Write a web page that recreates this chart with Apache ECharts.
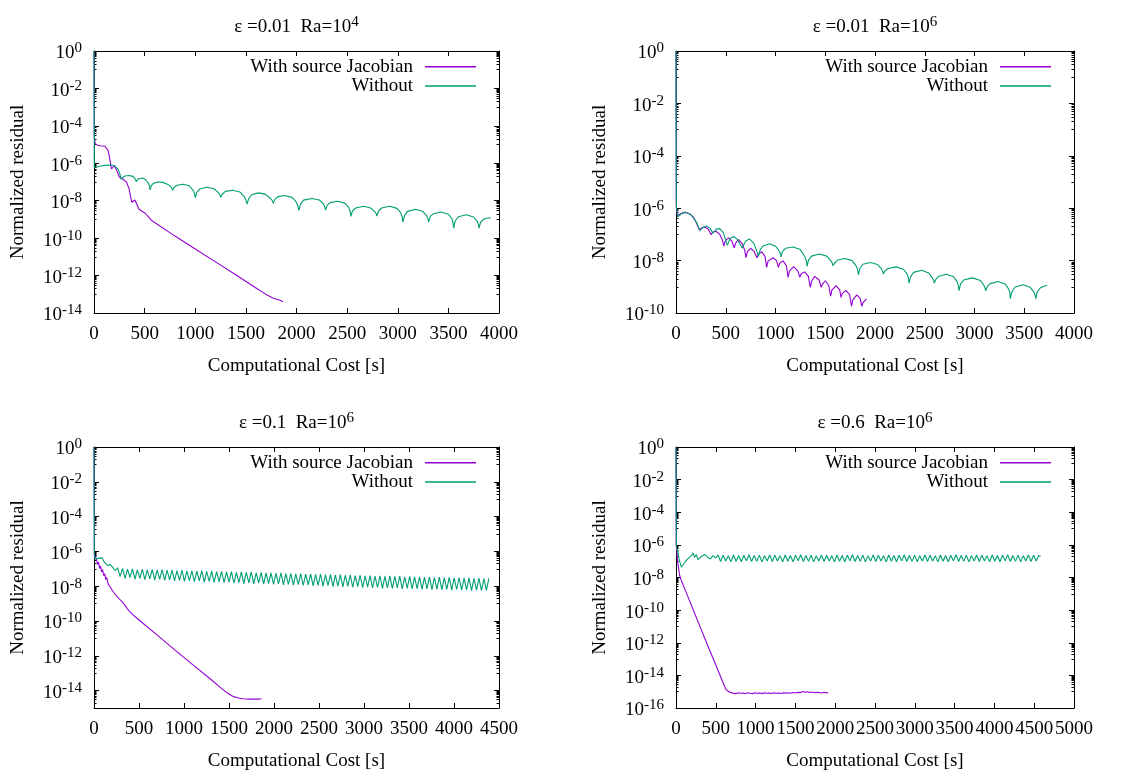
<!DOCTYPE html>
<html>
<head>
<meta charset="utf-8">
<script src="https://cdn.jsdelivr.net/npm/echarts@6/dist/echarts.min.js"></script>
<style>
  html, body { margin: 0; padding: 0; background: #fff; }
  #chart { width: 1129px; height: 772px; }
</style>
</head>
<body>
<div id="chart"></div>
<script>
// Residual histories: each point is [computational cost in s, log10 of normalized residual].

// eps = 0.01, Ra = 1e4
const topLeftWith = [[0,0],[3,-4.6],[12,-4.95],[35,-5.04],[60,-5.06],[108,-5.09],[140,-5.32],[160,-5.9],[172,-6.3],[185,-6.2],[204,-6.12],[225,-6.4],[252,-6.75],[283,-6.84],[322,-7.01],[347,-7.37],[362,-7.8],[373,-8.08],[385,-8.0],[404,-7.96],[420,-8.15],[443,-8.44],[470,-8.55],[506,-8.67],[540,-8.88],[570,-9.06],[586,-9.15],[800,-9.89],[1000,-10.58],[1200,-11.27],[1400,-11.96],[1600,-12.66],[1660,-12.87],[1717,-13.06],[1740,-13.12],[1760,-13.18],[1780,-13.22],[1795,-13.2],[1810,-13.28],[1825,-13.26],[1844,-13.33],[1856,-13.3],[1866,-13.4]];
const topLeftWithout = [[0,0],[3,-6.21],[30,-6.2],[80,-6.13],[130,-6.1],[172,-6.09],[205,-6.15],[236,-6.3],[255,-6.55],[268,-6.84],
  [280,-6.74],[305,-6.68],[347,-6.65],[385,-6.7],[405,-6.82],[417,-6.98],
  [430,-6.86],[452,-6.81],[481,-6.79],[510,-6.88],[535,-7.05],[548,-7.2],[554,-7.42],
  [568,-7.18],[590,-7.06],[630,-7.0],[680,-7.02],[730,-7.13],[760,-7.26],[777,-7.44],
  [792,-7.28],[820,-7.17],[880,-7.12],[940,-7.2],[975,-7.42],[992,-7.6],[1000,-7.83],
  [1015,-7.56],[1045,-7.37],[1115,-7.28],[1185,-7.36],[1225,-7.55],[1243,-7.68],[1252,-7.82],
  [1268,-7.64],[1298,-7.5],[1370,-7.44],[1440,-7.53],[1480,-7.75],[1500,-7.95],[1512,-8.18],
  [1527,-7.9],[1557,-7.68],[1625,-7.58],[1695,-7.66],[1740,-7.87],[1760,-7.98],[1771,-8.14],
  [1786,-7.93],[1816,-7.78],[1885,-7.72],[1955,-7.82],[1995,-8.05],[2013,-8.25],[2023,-8.52],
  [2040,-8.18],[2070,-7.97],[2152,-7.88],[2225,-7.96],[2262,-8.15],[2278,-8.3],[2287,-8.5],
  [2303,-8.25],[2333,-8.1],[2407,-8.03],[2478,-8.13],[2515,-8.36],[2530,-8.56],[2537,-8.84],
  [2553,-8.55],[2585,-8.39],[2662,-8.3],[2732,-8.39],[2770,-8.57],[2786,-8.68],[2794,-8.82],
  [2810,-8.55],[2840,-8.39],[2920,-8.3],[2992,-8.41],[3030,-8.65],[3044,-8.86],[3051,-9.14],
  [3067,-8.8],[3097,-8.57],[3174,-8.46],[3245,-8.56],[3285,-8.8],[3298,-8.97],[3305,-9.14],
  [3320,-8.85],[3350,-8.7],[3430,-8.6],[3500,-8.72],[3535,-8.95],[3546,-9.17],[3552,-9.46],
  [3568,-9.07],[3598,-8.86],[3677,-8.75],[3748,-8.87],[3785,-9.1],[3796,-9.27],[3802,-9.46],
  [3818,-9.15],[3850,-8.98],[3890,-8.92],[3921,-8.92]];

// eps = 0.01, Ra = 1e6
const topRightWith = [[0,0],[3,-5.95],[13,-6.3],[40,-6.22],[70,-6.17],[99,-6.16],[140,-6.22],[178,-6.35],[210,-6.6],[236,-6.84],[255,-6.76],[290,-6.72],[325,-6.8],[353,-7.01],[370,-6.92],[401,-6.88],[440,-7.0],[465,-7.2],[481,-7.45],[495,-7.25],[529,-7.13],[560,-7.25],[586,-7.51],[600,-7.32],[630,-7.2],[665,-7.35],[690,-7.6],[704,-7.89],[718,-7.65],[752,-7.53],[785,-7.65],[815,-7.89],[828,-7.75],[863,-7.66],[895,-7.85],[911,-8.26],[925,-8.02],[975,-7.89],[1010,-8.0],[1029,-8.26],[1042,-8.1],[1076,-8.01],[1110,-8.2],[1127,-8.64],[1140,-8.4],[1182,-8.23],[1225,-8.4],[1245,-8.64],[1258,-8.5],[1293,-8.43],[1330,-8.6],[1350,-9.02],[1363,-8.78],[1395,-8.6],[1440,-8.75],[1459,-9.02],[1472,-8.9],[1500,-8.77],[1535,-8.95],[1554,-9.36],[1567,-9.12],[1611,-8.96],[1645,-9.12],[1659,-9.4],[1672,-9.25],[1707,-9.14],[1745,-9.3],[1764,-9.74],[1777,-9.5],[1818,-9.31],[1852,-9.45],[1866,-9.74],[1880,-9.6],[1914,-9.46]];
const topRightWithout = [[0,0],[3,-5.9],[18,-6.32],[60,-6.2],[97,-6.15],[150,-6.25],[200,-6.5],[242,-6.85],[275,-6.72],[306,-6.68],[340,-6.76],[372,-6.95],[405,-6.8],[440,-6.78],[475,-6.92],[515,-7.42],[545,-7.15],[580,-7.08],[620,-7.2],[665,-7.52],[700,-7.25],[740,-7.18],[785,-7.35],[830,-7.84],
  [845,-7.6],[875,-7.44],[940,-7.36],[1000,-7.45],[1035,-7.62],[1048,-7.72],[1055,-7.86],
  [1070,-7.65],[1100,-7.53],[1176,-7.48],[1250,-7.58],[1295,-7.85],[1310,-8.0],[1317,-8.22],
  [1332,-7.98],[1362,-7.83],[1440,-7.75],[1515,-7.83],[1555,-8.0],[1571,-8.1],[1578,-8.2],
  [1593,-8.1],[1623,-7.98],[1697,-7.92],[1770,-8.0],[1810,-8.2],[1826,-8.35],[1833,-8.54],
  [1848,-8.3],[1878,-8.14],[1955,-8.07],[2025,-8.15],[2062,-8.3],[2077,-8.4],[2084,-8.51],
  [2099,-8.4],[2130,-8.3],[2210,-8.24],[2285,-8.33],[2320,-8.5],[2335,-8.65],[2342,-8.86],
  [2357,-8.62],[2388,-8.45],[2468,-8.37],[2540,-8.47],[2575,-8.65],[2589,-8.75],[2596,-8.86],
  [2611,-8.72],[2641,-8.6],[2719,-8.52],[2790,-8.62],[2825,-8.8],[2838,-8.95],[2844,-9.15],
  [2860,-8.9],[2892,-8.74],[2980,-8.66],[3060,-8.76],[3095,-8.95],[3106,-9.05],[3112,-9.15],
  [3127,-9.0],[3157,-8.88],[3238,-8.8],[3310,-8.9],[3342,-9.08],[3354,-9.2],[3360,-9.45],
  [3375,-9.2],[3405,-9.02],[3488,-8.92],[3560,-9.02],[3597,-9.2],[3609,-9.32],[3615,-9.45],
  [3630,-9.2],[3660,-9.05],[3700,-8.97],[3732,-8.95]];

// eps = 0.1, Ra = 1e6
const bottomLeftWith = [[0,0],[5,-6.2],[26,-6.43],[40,-6.75],[50,-6.62],[62,-6.98],[72,-6.85],[85,-7.18],[95,-7.05],[108,-7.4],[118,-7.28],[132,-7.62],[142,-7.5],[156,-7.85],[166,-7.74],[180,-8.05],[190,-7.95],[204,-8.25],[214,-8.16],[228,-8.42],[240,-8.35],[255,-8.58],[268,-8.52],[285,-8.75],[300,-8.78],[320,-8.95],[345,-9.1],[370,-9.3],[400,-9.47],[434,-9.65],[500,-9.94],[700,-10.8],[900,-11.67],[1100,-12.52],[1300,-13.36],[1400,-13.8],[1471,-14.1],[1500,-14.2],[1530,-14.3],[1560,-14.36],[1590,-14.4],[1615,-14.44],[1635,-14.4],[1655,-14.47],[1675,-14.43],[1695,-14.48],[1715,-14.44],[1735,-14.49],[1755,-14.45],[1775,-14.48],[1795,-14.44],[1815,-14.49],[1835,-14.45],[1850,-14.48],[1861,-14.46]];
const bottomLeftWithout = [[0,0],[3,-6.3],[15,-6.43],[49,-6.4],[86,-6.37],[119,-6.65],[152,-6.82],[178,-6.75],[204,-6.89],[233,-7.1],[263,-6.95],
  [290,-7.45],[317,-6.98],[345,-7.55],[372,-7.02],[400,-7.5],[427,-7.0],[455,-7.6],[482,-7.05],[510,-7.55],[537,-7.02],
  [565,-7.62],[592,-7.06],[620,-7.58],[647,-7.04],[675,-7.65],[702,-7.08],[730,-7.6],[757,-7.05],[785,-7.66],[812,-7.08],
  [840,-7.64],[867,-7.07],[895,-7.7],[922,-7.1],[950,-7.66],[977,-7.08],[1005,-7.72],[1032,-7.12],[1060,-7.68],[1087,-7.1],
  [1115,-7.74],[1142,-7.13],[1170,-7.7],[1197,-7.11],[1225,-7.76],[1252,-7.15],[1280,-7.72],[1307,-7.13],[1335,-7.78],[1362,-7.16],
  [1390,-7.75],[1417,-7.15],[1445,-7.8],[1472,-7.18],[1500,-7.77],[1527,-7.16],[1555,-7.83],[1582,-7.2],[1610,-7.79],[1637,-7.18],
  [1665,-7.85],[1692,-7.21],[1720,-7.81],[1747,-7.19],[1775,-7.86],[1802,-7.23],[1830,-7.83],[1857,-7.21],[1885,-7.88],[1912,-7.24],
  [1940,-7.85],[1967,-7.23],[1995,-7.9],[2022,-7.26],[2050,-7.87],[2077,-7.24],[2105,-7.92],[2132,-7.28],[2160,-7.89],[2187,-7.26],
  [2215,-7.94],[2242,-7.29],[2270,-7.91],[2297,-7.27],[2325,-7.96],[2352,-7.31],[2380,-7.93],[2407,-7.29],[2435,-7.98],[2462,-7.32],
  [2490,-7.95],[2517,-7.31],[2545,-8.0],[2572,-7.34],[2600,-7.97],[2627,-7.32],[2655,-8.02],[2682,-7.36],[2710,-7.99],[2737,-7.34],
  [2765,-8.04],[2792,-7.37],[2820,-8.01],[2847,-7.35],[2875,-8.06],[2902,-7.39],[2930,-8.03],[2957,-7.37],[2985,-8.08],[3012,-7.4],
  [3040,-8.05],[3067,-7.39],[3095,-8.1],[3122,-7.42],[3150,-8.07],[3177,-7.4],[3205,-8.12],[3232,-7.43],[3260,-8.09],[3287,-7.41],
  [3315,-8.13],[3342,-7.44],[3370,-8.1],[3397,-7.42],[3425,-8.15],[3452,-7.46],[3480,-8.12],[3507,-7.44],[3535,-8.16],[3562,-7.47],
  [3590,-8.14],[3617,-7.46],[3645,-8.18],[3672,-7.48],[3700,-8.15],[3727,-7.47],[3755,-8.2],[3782,-7.5],[3810,-8.17],[3837,-7.48],
  [3865,-8.21],[3892,-7.51],[3920,-8.18],[3947,-7.49],[3975,-8.22],[4002,-7.52],[4030,-8.19],[4057,-7.5],[4085,-8.23],[4112,-7.53],
  [4140,-8.21],[4167,-7.52],[4195,-8.25],[4222,-7.55],[4250,-8.22],[4277,-7.53],[4305,-8.26],[4332,-7.56],[4360,-8.24],[4387,-7.55]];

// eps = 0.6, Ra = 1e6
const bottomRightWith = [[0,0],[3,-6.05],[20,-7.0],[46,-7.88],[67,-8.18],[120,-8.82],[172,-9.45],[230,-10.15],[297,-10.95],[380,-11.95],[465,-12.95],[549,-13.95],[611,-14.68],[630,-14.88],[653,-14.98],[680,-15.05],[716,-15.09],[750,-15.12],[780,-15.06],[810,-15.1],[840,-15.08],[870,-15.13],[900,-15.07],[930,-15.1],[960,-15.12],[990,-15.06],[1020,-15.1],[1050,-15.08],[1080,-15.12],[1110,-15.07],[1140,-15.1],[1170,-15.09],[1200,-15.11],[1230,-15.06],[1260,-15.1],[1290,-15.08],[1320,-15.11],[1350,-15.06],[1380,-15.09],[1410,-15.07],[1440,-15.1],[1470,-15.05],[1500,-15.08],[1530,-15.04],[1560,-15.06],[1590,-14.99],[1620,-15.03],[1650,-15.0],[1680,-15.05],[1710,-15.02],[1740,-15.06],[1770,-15.03],[1800,-15.05],[1830,-15.08],[1860,-15.04],[1890,-15.07],[1910,-15.06]];
const bottomRightWithout = [[0,0],[4,-6.0],[12,-6.05],[40,-6.9],[67,-7.37],[96,-7.17],[121,-7.07],[138,-6.9],[163,-6.96],[193,-6.66],[214,-6.5],[234,-6.76],[255,-6.6],[276,-6.9],[306,-6.76],[331,-6.82],[360,-6.58],[381,-6.5],[402,-6.78],[431,-6.86],[465,-6.66],[498,-6.8],[528,-6.62],
  [560,-7.02],[592,-6.63],[625,-6.99],[657,-6.66],[690,-7.04],[722,-6.62],[755,-7.0],[787,-6.65],[820,-7.03],[852,-6.64],
  [885,-6.98],[917,-6.61],[950,-7.02],[982,-6.65],[1015,-7.01],[1047,-6.63],[1080,-7.04],[1112,-6.66],[1145,-6.99],[1177,-6.62],
  [1210,-7.02],[1242,-6.63],[1275,-6.99],[1307,-6.66],[1340,-7.04],[1372,-6.62],[1405,-7.0],[1437,-6.65],[1470,-7.03],[1502,-6.64],
  [1535,-6.98],[1567,-6.61],[1600,-7.02],[1632,-6.65],[1665,-7.01],[1697,-6.63],[1730,-7.04],[1762,-6.66],[1795,-6.99],[1827,-6.62],
  [1860,-7.02],[1892,-6.63],[1925,-6.99],[1957,-6.66],[1990,-7.04],[2022,-6.62],[2055,-7.0],[2087,-6.65],[2120,-7.03],[2152,-6.64],
  [2185,-6.98],[2217,-6.61],[2250,-7.02],[2282,-6.65],[2315,-7.01],[2347,-6.63],[2380,-7.04],[2412,-6.66],[2445,-6.99],[2477,-6.62],
  [2510,-7.02],[2542,-6.63],[2575,-6.99],[2607,-6.66],[2640,-7.04],[2672,-6.62],[2705,-7.0],[2737,-6.65],[2770,-7.03],[2802,-6.64],
  [2835,-6.98],[2867,-6.61],[2900,-7.02],[2932,-6.65],[2965,-7.01],[2997,-6.63],[3030,-7.04],[3062,-6.66],[3095,-6.99],[3127,-6.62],
  [3160,-7.02],[3192,-6.63],[3225,-6.99],[3257,-6.66],[3290,-7.04],[3322,-6.62],[3355,-7.0],[3387,-6.65],[3420,-7.03],[3452,-6.64],
  [3485,-6.98],[3517,-6.61],[3550,-7.02],[3582,-6.65],[3615,-7.01],[3647,-6.63],[3680,-7.04],[3712,-6.66],[3745,-6.99],[3777,-6.62],
  [3810,-7.02],[3842,-6.63],[3875,-6.99],[3907,-6.66],[3940,-7.04],[3972,-6.62],[4005,-7.0],[4037,-6.65],[4070,-7.03],[4102,-6.64],
  [4135,-6.98],[4167,-6.61],[4200,-7.02],[4232,-6.65],[4265,-7.01],[4297,-6.63],[4330,-7.04],[4362,-6.66],[4395,-6.99],[4427,-6.62],
  [4460,-7.02],[4492,-6.63],[4525,-6.99],[4557,-6.66],[4581,-6.7]];

// Panel texts and axis ranges
const titleTexts = ['ε =0.01  Ra=10', 'ε =0.01  Ra=10', 'ε =0.1  Ra=10', 'ε =0.6  Ra=10'];
const titleExponents = ['4', '6', '6', '6'];
const xMaxima = [4000, 4000, 4500, 5000];
const xTickStep = 500;
const yMinExponents = [-14, -10, -15, -16];
const yMaxExponent = 0;
const seriesNames = ['With source Jacobian', 'Without'];
const xAxisTitle = 'Computational Cost [s]';
const yAxisTitle = 'Normalized residual';
const panelData = [
  [topLeftWith, topLeftWithout],
  [topRightWith, topRightWithout],
  [bottomLeftWith, bottomLeftWithout],
  [bottomRightWith, bottomRightWithout]
];

// Layout and styling
const FONT = 'Liberation Serif';
const COLORS = ['#9400d3', '#009e73'];
const grids = [
  { left: 94, top: 51, width: 405, height: 262 },
  { left: 676, top: 51, width: 398, height: 262 },
  { left: 94, top: 447, width: 405, height: 263 },
  { left: 676, top: 447, width: 398, height: 263 }
];
const W = 1129;
const black = { color: '#000', width: 1 };
// base text centred in a 25px line, exponent pinned to the line top
const supRich = {
  b: { fontFamily: FONT, fontSize: 19, fontWeight: 'normal', lineHeight: 25, color: '#000', verticalAlign: 'middle' },
  s: { fontFamily: FONT, fontSize: 15, fontWeight: 'normal', lineHeight: 13, color: '#000', verticalAlign: 'top' }
};
const textStyle = { fontFamily: FONT, fontSize: 19, fontWeight: 'normal', color: '#000' };

const option = {
  animation: false,
  backgroundColor: '#fff',
  title: [], grid: [], xAxis: [], yAxis: [], legend: [], series: []
};

grids.forEach((g, i) => {
  const yMin = yMinExponents[i];
  // labelled decades every 2, small ticks on the 1..9 multiples of the decade below each
  const majors = [];
  for (let e = yMaxExponent; e >= yMin; e -= 2) majors.push(e);
  const minors = [];
  majors.forEach(m => {
    for (let k = 1; k <= 9; k++) {
      const v = m - 1 + Math.log10(k);
      if (v >= yMin) minors.push(v);
    }
  });

  option.grid.push({ left: g.left, top: g.top, width: g.width, height: g.height });

  option.title.push({
    text: '{b|' + titleTexts[i] + '}{s|' + titleExponents[i] + '}',
    left: g.left + g.width / 2, top: g.top - 36, textAlign: 'center', padding: 0,
    textStyle: { fontWeight: 'normal', rich: supRich }
  });

  const xCommon = {
    gridIndex: i, type: 'value', min: 0, max: xMaxima[i], interval: xTickStep,
    axisLine: { show: true, onZero: false, lineStyle: black },
    axisTick: { show: true, inside: true, length: 5, lineStyle: black },
    splitLine: { show: false }
  };
  option.xAxis.push(Object.assign({}, xCommon, {
    position: 'bottom',
    axisLabel: Object.assign({
      show: true, margin: 12, showMinLabel: true, showMaxLabel: true, hideOverlap: false,
      formatter: v => String(v)
    }, textStyle),
    name: xAxisTitle, nameLocation: 'middle', nameGap: 44, nameTextStyle: textStyle
  }));
  option.xAxis.push(Object.assign({}, xCommon, { position: 'top', axisLabel: { show: false } }));

  const yCommon = {
    gridIndex: i, type: 'value', min: yMin, max: yMaxExponent, interval: 1,
    splitLine: { show: false }
  };
  option.yAxis.push(Object.assign({}, yCommon, {
    position: 'left',
    axisLine: { show: true, onZero: false, lineStyle: black },
    axisTick: { show: true, inside: true, length: 5, lineStyle: black, customValues: majors },
    axisLabel: {
      show: true, margin: 12, customValues: majors, padding: [5, 0, 0, 0],
      formatter: v => '{b|10}{s|' + Math.round(v) + '}', rich: supRich
    },
    name: yAxisTitle, nameLocation: 'middle', nameGap: 66, nameRotate: 90, nameTextStyle: textStyle
  }));
  option.yAxis.push(Object.assign({}, yCommon, {
    position: 'right',
    axisLine: { show: true, onZero: false, lineStyle: black },
    axisTick: { show: true, inside: true, length: 5, lineStyle: black, customValues: majors },
    axisLabel: { show: false }
  }));
  ['left', 'right'].forEach(pos => {
    option.yAxis.push(Object.assign({}, yCommon, {
      position: pos,
      axisLine: { show: false, onZero: false },
      axisTick: { show: true, inside: true, length: 2.5, lineStyle: black, customValues: minors },
      axisLabel: { show: false }
    }));
  });

  option.legend.push({
    orient: 'vertical', align: 'right', padding: 0, itemGap: 0,
    right: W - (g.left + g.width) + 23, top: g.top + 6,
    icon: 'rect', itemWidth: 51, itemHeight: 1.5,
    selectedMode: false,
    textStyle: Object.assign({ padding: [0, 7, 0, 0], lineHeight: 19.4 }, textStyle),
    data: seriesNames.slice()
  });

  seriesNames.forEach((name, s) => {
    option.series.push({
      type: 'line', name: name,
      xAxisIndex: 2 * i, yAxisIndex: 4 * i,
      data: panelData[i][s],
      symbol: 'none', showSymbol: false,
      lineStyle: { color: COLORS[s], width: 1.1 },
      itemStyle: { color: COLORS[s] },
      z: 3 + s
    });
  });
});

const chart = echarts.init(document.getElementById('chart'), null, { renderer: 'canvas' });
chart.setOption(option);
</script>
</body>
</html>
